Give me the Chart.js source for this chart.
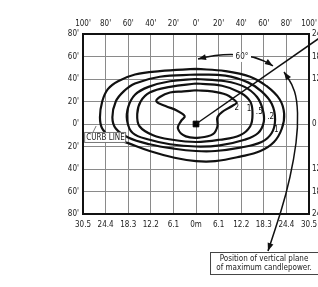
<!DOCTYPE html>
<html>
<head>
<meta charset="utf-8">
<script src="https://cdn.jsdelivr.net/npm/chart.js@4.4.0/dist/chart.umd.min.js"></script>
<style>
html,body{margin:0;padding:0;background:#fff;overflow:hidden}
#wrap{width:318px;height:287px}
</style>
</head>
<body>
<div id="wrap"><canvas id="myChart" width="318" height="287"></canvas></div>
<script>
// tick labels
const feetTop = ["100'", "80'", "60'", "40'", "20'", "0'", "20'", "40'", "60'", "80'", "100'"];
const meterBottom = ['30.5', '24.4', '18.3', '12.2', '6.1', '0m', '6.1', '12.2', '18.3', '24.4', '30.5'];
const feetLeft = ["80'", "60'", "40'", "20'", "0'", "20'", "40'", "60'", "80'"];
const meterRight = ['24.4', '18.3', '12.2', '', '0', '', '12.2', '18.3', '24.4'];

// isocandela lines, feet from the pole (x across, y along the road)
const contourNames = ['2', '1', '.5', '.2', '.1'];
const line2 = [[0,30],[14,29],[27,26],[33,22],[36,19],[32,16],[25,12],[19,6],[19,-2],[15,-9],[4,-12],[-9,-11],[-16,-4],[-13,3],[-10,7],[-17,12],[-27,16],[-35,20],[-32,24],[-23,28],[-11,29]];
const line1 = [[0,36],[23,34],[39,28],[48,20],[50,9],[48,-2],[39,-10],[21,-14],[0,-16],[-21,-14],[-38,-10],[-50,-2],[-52,9],[-49,20],[-41,28],[-23,33]];
const line05 = [[0,40],[26,38],[43,33],[54,24],[59,13],[60,2],[55,-8],[43,-14],[21,-19],[0,-20],[-23,-18],[-41,-14],[-56,-8],[-61,3],[-60,15],[-54,26],[-42,33],[-23,38]];
const line02 = [[0,44],[26,43],[46,37],[58,29],[67,18],[70,4],[67,-8],[58,-16],[39,-21],[17,-24],[0,-24],[-19,-22],[-41,-18],[-60,-12],[-71,-4],[-74,6],[-71,20],[-64,29],[-54,36],[-32,42]];
const line01 = [[0,49],[26,47],[48,42],[62,34],[74,22],[78,9],[76,-4],[69,-16],[57,-24],[39,-29],[17,-33],[0,-33],[-19,-30],[-41,-24],[-60,-17],[-76,-11],[-83,-4],[-85,6],[-83,20],[-78,31],[-69,38],[-54,44],[-32,47]];
const contourValues = [line2, line1, line05, line02, line01];
const labelSpots = [[36,14],[47,13],[56,11],[66,6],[70,-5]];

const maxPlane = [[0,0],[110,77]];

Chart.defaults.font.family = "'Liberation Sans Narrow', 'DejaVu Sans Condensed', 'Roboto', sans-serif";
Chart.defaults.font.size = 8;
Chart.defaults.color = '#222';

function loop(pts){
  let out = pts.map(p => ({x: p[0], y: p[1]}));
  out.push({x: pts[0][0], y: pts[0][1]});
  return out;
}

let datasets = contourValues.map((pts, i) => ({
  label: contourNames[i],
  data: loop(pts),
  showLine: true,
  borderColor: '#111',
  borderWidth: 2.2,
  pointRadius: 0,
  tension: 0.4,
  fill: false
}));
datasets.push({
  label: 'plane',
  data: maxPlane.map(p => ({x: p[0], y: p[1]})),
  showLine: true,
  borderColor: '#111',
  borderWidth: 1.5,
  pointRadius: 0,
  clip: false
});
datasets.push({
  label: 'pole',
  data: [{x: 0, y: 0}],
  pointStyle: 'rect',
  pointRadius: 4,
  backgroundColor: '#000',
  borderColor: '#000'
});

function arrowHead(c, x, y, ang){
  c.save();
  c.translate(x, y);
  c.rotate(ang);
  c.beginPath();
  c.moveTo(0, 0);
  c.lineTo(-8, -3);
  c.lineTo(-8, 3);
  c.closePath();
  c.fill();
  c.restore();
}

// no extra room for half labels at the ends of the axes
function noPad(s){
  s.paddingLeft = 0; s.paddingRight = 0; s.paddingTop = 0; s.paddingBottom = 0;
}

const notes = {
  id: 'notes',
  afterDatasetsDraw(chart){
    const c = chart.ctx, sx = chart.scales.x, sy = chart.scales.y;
    const px = v => sx.getPixelForValue(v), py = v => sy.getPixelForValue(v);
    c.save();
    c.fillStyle = '#111';
    c.strokeStyle = '#111';
    c.font = "8px 'Liberation Sans Narrow', 'DejaVu Sans Condensed', sans-serif";

    // contour labels
    c.textAlign = 'center';
    c.textBaseline = 'middle';
    labelSpots.forEach((s, i) => c.fillText(contourNames[i], px(s[0]), py(s[1])));

    // 60 degree arc
    let a0 = [px(1.8), py(57.8)], ac = [px(42.9), py(68)], a1 = [px(68.1), py(51.6)];
    c.lineWidth = 1.5;
    c.beginPath();
    c.moveTo(a0[0], a0[1]);
    c.quadraticCurveTo(ac[0], ac[1], a1[0], a1[1]);
    c.stroke();
    arrowHead(c, a0[0], a0[1], Math.atan2(a0[1] - ac[1], a0[0] - ac[0]));
    arrowHead(c, a1[0], a1[1], Math.atan2(a1[1] - ac[1], a1[0] - ac[0]));
    let lx = px(40.7), ly = py(59.6);
    c.fillStyle = '#fff';
    c.fillRect(lx - 9, ly - 5, 18, 10);
    c.fillStyle = '#111';
    c.fillText('60°', lx, ly);

    // pointer from the note box
    const path = [[63.7,-112.9],[70.8,-91.6],[79.6,-63.1],[86.7,-31.1],[90.3,-2.7],[89.4,22.2],[85,35.6],[77.9,46.2]].map(p => [px(p[0]), py(p[1])]);
    c.lineWidth = 1.5;
    c.beginPath();
    c.moveTo(path[0][0], path[0][1]);
    for (let i = 1; i < path.length - 1; i++) {
      let mx = (path[i][0] + path[i+1][0]) / 2, my = (path[i][1] + path[i+1][1]) / 2;
      c.quadraticCurveTo(path[i][0], path[i][1], mx, my);
    }
    let last = path[path.length - 1];
    c.lineTo(last[0], last[1]);
    c.stroke();
    arrowHead(c, path[0][0], path[0][1], Math.atan2(path[0][1] - path[1][1], path[0][0] - path[1][0]));
    let pre = path[path.length - 2];
    arrowHead(c, last[0], last[1], Math.atan2(last[1] - pre[1], last[0] - pre[0]));

    // note box
    let bx = px(12.4), by = py(-112.9) + 1;
    c.fillStyle = '#fff';
    c.fillRect(bx, by, 108, 22);
    c.strokeStyle = '#444';
    c.lineWidth = 1;
    c.strokeRect(bx + 0.5, by + 0.5, 108, 22);
    c.fillStyle = '#222';
    c.fillText('Position of vertical plane', bx + 54, by + 6.5);
    c.fillText('of maximum candlepower.', bx + 54, by + 16);

    // curb line tag
    let cx = px(-99), cy = py(-6.2) + 1;
    c.fillStyle = '#fff';
    c.fillRect(cx, cy, 41, 10);
    c.strokeStyle = '#777';
    c.strokeRect(cx + 0.5, cy + 0.5, 41, 10);
    c.beginPath();
    c.moveTo(cx + 9, cy);
    c.lineTo(cx + 12, cy - 6);
    c.stroke();
    c.fillStyle = '#222';
    c.textAlign = 'left';
    c.fillText('CURB LINE', cx + 2, cy + 5.5);
    c.restore();
  }
};

const ctx = document.getElementById('myChart');
let myChart = new Chart(ctx, {
  type: 'scatter',
  data: { datasets: datasets },
  options: {
    responsive: false,
    animation: false,
    layout: { padding: 0 },
    plugins: { legend: { display: false }, tooltip: { enabled: false } },
    scales: {
      x: {
        position: 'bottom', min: -100, max: 100,
        ticks: { stepSize: 20, padding: 6, maxRotation: 0, callback: (v, i) => meterBottom[i] },
        grid: { color: '#8a8a8a', lineWidth: 1, drawTicks: false },
        border: { color: '#111', width: 2 },
        afterFit: s => { s.height = 73; noPad(s); }
      },
      x2: {
        position: 'top', min: -100, max: 100,
        ticks: { stepSize: 20, padding: 5, maxRotation: 0, callback: (v, i) => feetTop[i] },
        grid: { drawOnChartArea: false, drawTicks: false },
        border: { color: '#111', width: 2 },
        afterFit: s => { s.height = 34; noPad(s); }
      },
      y: {
        position: 'left', min: -80, max: 80,
        ticks: { stepSize: 20, padding: 4, callback: (v, i) => feetLeft[i] },
        grid: { color: '#8a8a8a', lineWidth: 1, drawTicks: false },
        border: { color: '#111', width: 2 },
        afterFit: s => { s.width = 83; noPad(s); }
      },
      y2: {
        position: 'right', min: -80, max: 80,
        ticks: { stepSize: 20, padding: 3, callback: (v, i) => meterRight[i] },
        grid: { drawOnChartArea: false, drawTicks: false },
        border: { color: '#111', width: 2 },
        afterFit: s => { s.width = 9; noPad(s); }
      }
    }
  },
  plugins: [notes]
});
</script>
</body>
</html>
